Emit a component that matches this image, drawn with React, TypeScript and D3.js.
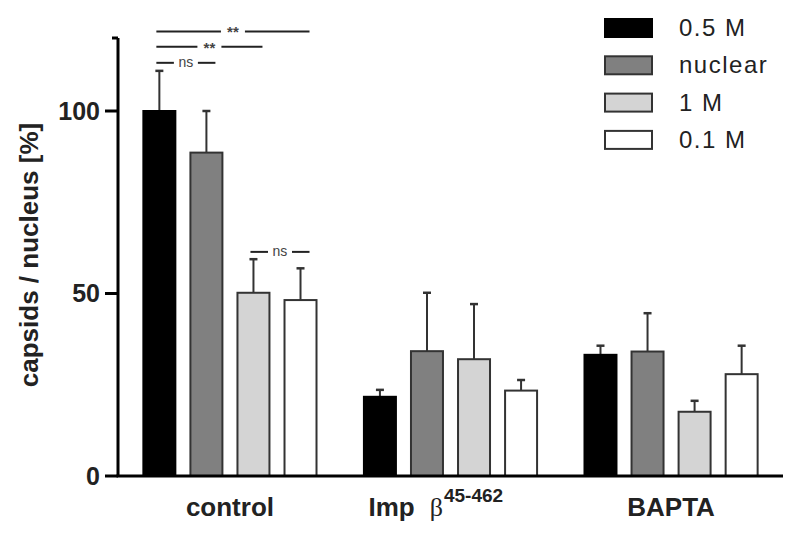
import React from 'react';
import * as d3 from 'd3';

const GROUPS = ['control', 'imp', 'BAPTA'];
const SERIES = ['0.5 M', 'nuclear', '1 M', '0.1 M'];
const FILLS = ['#000000', '#808080', '#d4d4d4', '#ffffff'];

// mean values per group, order as SERIES
const MEANS = [
  [100, 88.6, 50.2, 48.2],
  [21.7, 34.2, 32.0, 23.4],
  [33.2, 34.1, 17.6, 27.9],
];
// upper error (SEM)
const ERRS = [
  [11.0, 11.4, 9.2, 8.7],
  [1.9, 16.0, 15.1, 2.9],
  [2.5, 10.5, 3.0, 7.8],
];
const Y_TICKS = [0, 50, 100];

// significance brackets in control group: series a..b, label, y value
const SIG = [
  { a: 0, b: 3, label: '**', y: 121.8 },
  { a: 0, b: 2, label: '**', y: 117.6 },
  { a: 0, b: 1, label: 'ns', y: 113.2 },
  { a: 2, b: 3, label: 'ns', y: 61.4 },
];

const W = 800;
const H = 541;
const M = { left: 118, right: 17, top: 38, bottom: 65 };

export default function App() {
  const y = d3.scaleLinear().domain([0, 120]).range([H - M.bottom, M.top]);
  const x0 = d3.scaleBand().domain(GROUPS).range([M.left, W - M.right]).paddingInner(0.215).paddingOuter(0.115);
  const x1 = d3.scaleBand().domain(SERIES).range([0, x0.bandwidth()]).paddingInner(0.32);
  const bw = x1.bandwidth();
  const font = '"Liberation Sans", Arial, sans-serif';
  const cx = (g: string, s: number) => (x0(g) ?? 0) + (x1(SERIES[s]) ?? 0) + bw / 2;
  const gc = (g: string) => (x0(g) ?? 0) + x0.bandwidth() / 2;

  return (
    <svg width={W} height={H} style={{ position: 'absolute', left: 0, top: 0, background: '#fff' }} fontFamily={font}>
      {/* bars */}
      {GROUPS.map((g, gi) => (
        <g key={g}>
          {SERIES.map((s, si) => {
            const v = MEANS[gi][si];
            const e = ERRS[gi][si];
            const bx = (x0(g) ?? 0) + (x1(s) ?? 0);
            const c = bx + bw / 2;
            return (
              <g key={s}>
                <line x1={c} x2={c} y1={y(v)} y2={y(v + e)} stroke="#333" strokeWidth={2} />
                <line x1={c - 4} x2={c + 4} y1={y(v + e)} y2={y(v + e)} stroke="#333" strokeWidth={2.5} />
                <rect x={bx} y={y(v)} width={bw} height={y(0) - y(v)} fill={FILLS[si]}
                  stroke={si === 0 ? '#000' : '#333'} strokeWidth={2} />
              </g>
            );
          })}
        </g>
      ))}

      {/* significance */}
      {SIG.map((d, i) => {
        const xa = cx('control', d.a) - 3;
        const xb = cx('control', d.b) + 9;
        const yy = y(d.y);
        const mid = (xa + xb) / 2;
        return (
          <g key={i}>
            <line x1={xa} x2={mid - 12} y1={yy} y2={yy} stroke="#222" strokeWidth={2} />
            <line x1={mid + 12} x2={xb} y1={yy} y2={yy} stroke="#222" strokeWidth={2} />
            <text x={mid} y={yy + (d.label === 'ns' ? 4 : 6)} textAnchor="middle" fontSize={d.label === 'ns' ? 14 : 15}
              fill="#444" fontWeight={d.label === 'ns' ? 'normal' : 'bold'}>{d.label}</text>
          </g>
        );
      })}

      {/* y axis */}
      <line x1={M.left} x2={M.left} y1={y(120)} y2={y(0)} stroke="#000" strokeWidth={3} />
      <line x1={M.left - 6} x2={M.left} y1={y(120)} y2={y(120)} stroke="#000" strokeWidth={3} />
      {Y_TICKS.map(t => (
        <g key={t}>
          <line x1={M.left - 13} x2={M.left} y1={y(t)} y2={y(t)} stroke="#000" strokeWidth={3} />
          <text x={M.left - 18} y={y(t) + 8.5} textAnchor="end" fontSize={25} fontWeight="bold" fill="#222">{t}</text>
        </g>
      ))}
      <text transform={`translate(38,255) rotate(-90)`} textAnchor="middle" fontSize={26} fontWeight="bold" fill="#222">
        capsids / nucleus [%]
      </text>

      {/* x axis */}
      <line x1={M.left - 1.5} x2={W - M.right} y1={y(0)} y2={y(0)} stroke="#000" strokeWidth={3} />
      <text x={gc('control')} y={516} textAnchor="middle" fontSize={26} fontWeight="bold" fill="#222">control</text>
      <text x={gc('imp') - 82} y={516} fontSize={26} fontWeight="bold" fill="#222">
        Imp<tspan fontFamily='"Liberation Serif", "Times New Roman", serif' fontWeight="normal" dx={15}>β</tspan>
        <tspan fontSize={19} dy={-14} dx={1}>45-462</tspan>
      </text>
      <text x={gc('BAPTA')} y={516} textAnchor="middle" fontSize={26} fontWeight="bold" fill="#222">BAPTA</text>

      {/* legend */}
      {SERIES.map((s, i) => (
        <g key={s} transform={`translate(605,${19 + i * 37.3})`}>
          <rect x={0} y={0} width={47} height={18} fill={FILLS[i]} stroke={i === 0 ? '#000' : '#333'} strokeWidth={2} />
          <text x={74} y={17} fontSize={24} letterSpacing={1.5} fill="#222">{s}</text>
        </g>
      ))}
    </svg>
  );
}
